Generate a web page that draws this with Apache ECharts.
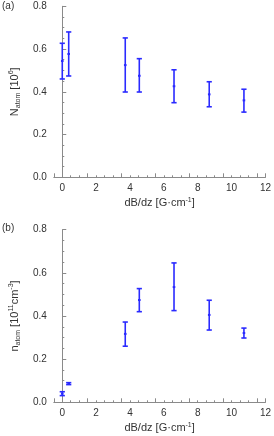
<!DOCTYPE html>
<html><head><meta charset="utf-8">
<script src="https://cdn.jsdelivr.net/npm/echarts@6/dist/echarts.min.js"></script>
<style>html,body{margin:0;padding:0;background:#fff}#c{width:274px;height:436px}</style>
</head><body><div id="c"></div>
<script>
const xVals = [0, 0.38, 3.72, 4.55, 6.6, 8.68, 10.73];
const topMid = [0.544, 0.577, 0.525, 0.475, 0.426, 0.388, 0.360];
const topHi  = [0.627, 0.680, 0.652, 0.555, 0.503, 0.447, 0.412];
const topLo  = [0.460, 0.474, 0.399, 0.399, 0.349, 0.330, 0.305];
const botMid = [0.040, 0.086, 0.317, 0.474, 0.534, 0.405, 0.321];
const botHi  = [0.049, 0.091, 0.372, 0.527, 0.646, 0.473, 0.344];
const botLo  = [0.031, 0.082, 0.260, 0.420, 0.425, 0.335, 0.298];
const xTicks = [0, 2, 4, 6, 8, 10, 12];
const yTicks = [0.0, 0.2, 0.4, 0.6, 0.8];

const BLUE = '#2a2aff';
const AXC = '#8a8a8a';
const TXT = '#333';
const FONT = 'Liberation Sans, Arial, sans-serif';

function rows(mid, lo, hi) { return xVals.map((x, i) => [x, mid[i], lo[i], hi[i]]); }

function renderErr(params, api) {
  const x = api.value(0), m = api.value(1), lo = api.value(2), hi = api.value(3);
  const pM = api.coord([x, m]), pL = api.coord([x, lo]), pH = api.coord([x, hi]);
  const cw = 2.6;
  const st = { stroke: BLUE, lineWidth: 1.6 };
  return { type: 'group', children: [
    { type: 'line', shape: { x1: pL[0], y1: pL[1], x2: pH[0], y2: pH[1] }, style: st },
    { type: 'line', shape: { x1: pL[0]-cw, y1: pL[1], x2: pL[0]+cw, y2: pL[1] }, style: st },
    { type: 'line', shape: { x1: pH[0]-cw, y1: pH[1], x2: pH[0]+cw, y2: pH[1] }, style: st },
    { type: 'rect', shape: { x: pM[0]-1.3, y: pM[1]-1, width: 2.6, height: 2 }, style: { fill: BLUE } }
  ]};
}

const richName = {
  b: { fontSize: 11, fontFamily: FONT, color: TXT, lineHeight: 14, verticalAlign: 'middle' },
  sub: { fontSize: 7, fontFamily: FONT, color: TXT, lineHeight: 8, verticalAlign: 'bottom' },
  sup: { fontSize: 7, fontFamily: FONT, color: TXT, lineHeight: 8, verticalAlign: 'top' }
};

function xAxis(gi) {
  return {
    type: 'value', gridIndex: gi, min: -0.5, max: 12, interval: 2,
    axisLine: { show: true, onZero: false, lineStyle: { color: AXC, width: 1 } },
    axisTick: { show: true, inside: true, length: 4, lineStyle: { color: AXC } },
    minorTick: { show: true, splitNumber: 4, length: 2, lineStyle: { color: AXC } },
    splitLine: { show: false },
    axisLabel: { color: TXT, fontSize: 10, fontFamily: FONT, margin: 6,
      customValues: xTicks, formatter: v => String(v) },
    name: '{b|dB/dz [G·cm}{sup|-1}{b|]}', nameLocation: 'middle', nameGap: 19,
    nameTextStyle: { rich: richName }
  };
}
function yAxis(gi, nameStr) {
  return {
    type: 'value', gridIndex: gi, min: 0, max: 0.8, interval: 0.2,
    axisLine: { show: true, lineStyle: { color: AXC, width: 1 } },
    axisTick: { show: true, inside: true, length: 4, lineStyle: { color: AXC } },
    minorTick: { show: true, splitNumber: 4, length: 2, lineStyle: { color: AXC } },
    splitLine: { show: false },
    axisLabel: { color: TXT, fontSize: 10, fontFamily: FONT, margin: 7,
      formatter: v => v.toFixed(1) },
    name: nameStr, nameLocation: 'middle', nameGap: 31, nameRotate: 90,
    nameTextStyle: { rich: richName }
  };
}

const chart = echarts.init(document.getElementById('c'), null, { renderer: 'canvas' });
chart.setOption({
  animation: false,
  grid: [
    { left: 53.3, top: 6.3, width: 216.7, height: 171 },
    { left: 53.3, top: 229.7, width: 216.7, height: 172.6 }
  ],
  xAxis: [xAxis(0), xAxis(1)],
  yAxis: [
    yAxis(0, '{b|N}{sub|atom}{b| [10}{sup|6}{b|]}'),
    yAxis(1, '{b|n}{sub|atom}{b| [10}{sup|11}{b|cm}{sup|-3}{b|]}')
  ],
  graphic: [
    { type: 'text', left: 2, top: 1, style: { text: '(a)', fontSize: 10, fontFamily: FONT, fill: TXT } },
    { type: 'text', left: 2, top: 223, style: { text: '(b)', fontSize: 10, fontFamily: FONT, fill: TXT } }
  ],
  series: [
    { type: 'custom', xAxisIndex: 0, yAxisIndex: 0, renderItem: renderErr,
      data: rows(topMid, topLo, topHi), encode: { x: 0, y: [1, 2, 3] }, clip: false },
    { type: 'custom', xAxisIndex: 1, yAxisIndex: 1, renderItem: renderErr,
      data: rows(botMid, botLo, botHi), encode: { x: 0, y: [1, 2, 3] }, clip: false }
  ]
});
</script></body></html>
